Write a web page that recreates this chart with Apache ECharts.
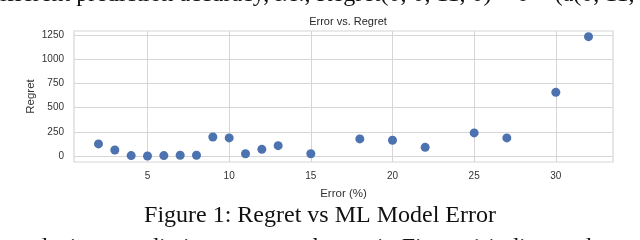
<!DOCTYPE html>
<html><head><meta charset="utf-8">
<script src="https://cdn.jsdelivr.net/npm/echarts@6/dist/echarts.min.js"></script>
<style>html,body{margin:0;padding:0;background:#fff}#c{width:640px;height:240px}</style>
</head><body><div id="c"></div>
<script>
const errorPct = [2, 3, 4, 5, 6, 7, 8, 9, 10, 11, 12, 13, 15, 18, 20, 22, 25, 27, 30, 32];
const regret = [125, 62, 5, 0, 5, 8, 8, 197, 187, 24, 69, 107, 24, 177, 163, 90, 239, 187, 658, 1233];
const xTicks = [5, 10, 15, 20, 25, 30];
const yTicks = [0, 250, 500, 750, 1000, 1250];
const chartTitle = 'Error vs. Regret';
const xName = 'Error (%)';
const yName = 'Regret';
const caption = 'Figure 1: Regret vs ML Model Error';
const topText = 'different prediction accuracy, i.e., Regret(0, 0, 11, 0) = 0 \u2212 (a\u0302(0, 11, 0)';
const bottomTextLeft = 'ensitive analysis to prediction error, as shown';
const bottomTextRight = 'in Figure 1 indicates that';

const chart = echarts.init(document.getElementById('c'), null, {renderer: 'canvas'});
const gridC = '#d6d6d6';
const txt = '#333333';
chart.setOption({
  animation: false,
  backgroundColor: '#ffffff',
  title: {
    text: chartTitle, left: 343, top: 11, textAlign: 'center',
    textStyle: {fontFamily: 'Liberation Sans', fontSize: 11, fontWeight: 'normal', color: '#262626'}
  },
  grid: {left: 74, right: 27, top: 31, bottom: 78, show: true, borderColor: gridC, borderWidth: 1.2},
  xAxis: {
    type: 'value', min: 0.5, max: 33.5,
    axisLine: {show: false}, axisTick: {show: false, customValues: xTicks},
    axisLabel: {customValues: xTicks, formatter: v => String(v), fontFamily: 'Liberation Sans', fontSize: 10, color: txt, margin: 9},
    splitLine: {show: true, lineStyle: {color: gridC, width: 1}},
    name: xName, nameLocation: 'middle', nameGap: 26, nameMoveOverlap: false,
    nameTextStyle: {fontFamily: 'Liberation Sans', fontSize: 11.5, color: txt}
  },
  yAxis: {
    type: 'value', min: -61.5, max: 1291.5,
    axisLine: {show: false}, axisTick: {show: false, customValues: yTicks},
    axisLabel: {customValues: yTicks, formatter: v => String(v), fontFamily: 'Liberation Sans', fontSize: 10, color: txt, margin: 10},
    splitLine: {show: true, lineStyle: {color: gridC, width: 1}},
    name: yName, nameLocation: 'middle', nameGap: 37, nameRotate: 90, nameMoveOverlap: false,
    nameTextStyle: {fontFamily: 'Liberation Sans', fontSize: 11.5, color: txt}
  },
  series: [{
    type: 'scatter', symbolSize: 9,
    data: errorPct.map((x, i) => [x, regret[i]]),
    itemStyle: {color: '#4c72b0', opacity: 1}
  }],
  graphic: [
    {type: 'text', x: -12, y: -17, style: {text: topText, font: '24px "Liberation Serif"', fill: '#111', textVerticalAlign: 'top'}},
    {type: 'text', x: 320, y: 204, style: {text: caption, font: '24px "Liberation Serif"', fill: '#111', textAlign: 'center', textVerticalAlign: 'top'}},
    {type: 'text', x: 366, y: 236, style: {text: bottomTextLeft, font: '24px "Liberation Serif"', fill: '#111', textAlign: 'right', textVerticalAlign: 'top'}},
    {type: 'text', x: 377, y: 236, style: {text: bottomTextRight, font: '24px "Liberation Serif"', fill: '#111', textVerticalAlign: 'top'}}
  ]
});
</script></body></html>
